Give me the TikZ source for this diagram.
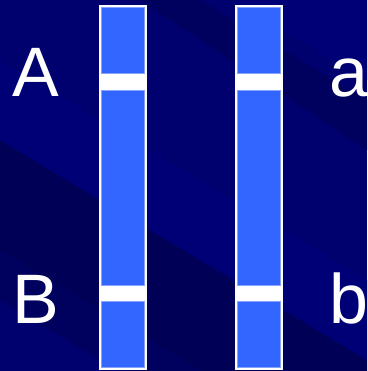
\documentclass[tikz,border=0pt]{standalone}
\usepackage{fontspec}
\setmainfont{Liberation Sans}
\definecolor{bgbase}{RGB}{0,0,110}
\definecolor{bgdark}{RGB}{0,0,94}
\definecolor{bgdark2}{RGB}{0,0,86}
\definecolor{bglight}{RGB}{0,0,118}
\definecolor{chrom}{RGB}{51,102,255}
\begin{document}
\begin{tikzpicture}[x=1pt,y=-1pt,
  letter/.style={text=white,font=\fontsize{70}{70}\selectfont,inner sep=0pt,anchor=base},
  seg/.style={fill=chrom,draw=chrom!60!white,line width=0.6pt}]
\useasboundingbox (0,0) rectangle (367,371);
\fill[bgbase] (0,0) rectangle (367,371);
% diagonal shading stripes
\begin{scope}
\clip (0,0) rectangle (367,371);
\fill[bgdark] (140,0) -- (200,0) -- (367,100) -- (367,150) -- cycle;
\fill[bgdark2] (0,140) -- (0,250) -- (367,470) -- (367,360) -- cycle;
\fill[bgdark] (0,250) -- (0,300) -- (367,520) -- (367,470) -- cycle;
\fill[bglight] (0,60) -- (0,140) -- (367,360) -- (367,280) -- cycle;
\fill[bglight] (230,0) -- (367,0) -- (367,80) -- cycle;
\end{scope}
% left chromosome
\fill[white] (99,5) rectangle (147,370);
\draw[seg] (101.5,7.5) rectangle (144.5,73);
\draw[seg] (101.5,90) rectangle (144.5,285);
\draw[seg] (101.5,301.5) rectangle (144.5,367.5);
% right chromosome
\fill[white] (235,5) rectangle (283,370);
\draw[seg] (237.5,7.5) rectangle (280.5,73);
\draw[seg] (237.5,90) rectangle (280.5,285);
\draw[seg] (237.5,301.5) rectangle (280.5,367.5);
% labels
\node[letter] (A) at (36,97) {A};
\node[letter] (B) at (36,323) {B};
\node[letter] (a) at (349,97) {a};
\node[letter] (b) at (349,323) {b};
\end{tikzpicture}
\end{document}
